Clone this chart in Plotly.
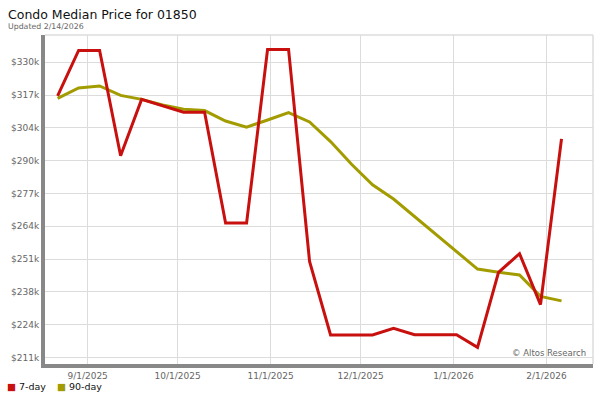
import plotly.graph_objects as go
import pandas as pd

dates = pd.date_range("2025-08-22", periods=25, freq="7D")
day7 = [316.5, 334.8, 334.8, 292.4, 315.1, 312.4, 309.9, 309.9, 265.3, 265.3,
        335.2, 335.2, 249.9, 220.3, 220.3, 220.3, 223.0, 220.4, 220.4, 220.4,
        215.3, 245.5, 253.0, 232.5, 299.2]
day90 = [315.5, 319.7, 320.5, 316.7, 315.1, 312.8, 311.1, 310.6, 306.4, 303.9,
         306.8, 309.8, 306.0, 298.1, 289.0, 280.7, 275.0, 268.0, 261.0, 253.9,
         246.8, 245.5, 244.4, 235.8, 234.0]
ytick_vals = [211.2, 224.4, 237.6, 250.8, 264.0, 277.2, 290.4, 303.6, 316.8, 330.0]
ytick_text = ["$211k", "$224k", "$238k", "$251k", "$264k", "$277k", "$290k", "$304k", "$317k", "$330k"]
xtick_vals = ["2025-09-01", "2025-10-01", "2025-11-01", "2025-12-01", "2026-01-01", "2026-02-01"]
xtick_text = ["9/1/2025", "10/1/2025", "11/1/2025", "12/1/2025", "1/1/2026", "2/1/2026"]
series_names = ["7-day", "90-day"]

RED = "#C8100F"
OLIVE = "#A29C00"
FONT = "DejaVu Sans"

fig = go.Figure()
fig.add_trace(go.Scatter(x=dates, y=day90, mode="lines", name=series_names[1],
                         line=dict(color=OLIVE, width=3), hoverinfo="skip"))
fig.add_trace(go.Scatter(x=dates, y=day7, mode="lines", name=series_names[0],
                         line=dict(color=RED, width=3), hoverinfo="skip"))

W, H = 600, 400
ml, mr, mt, mb = 45, 7, 35, 36
pw, ph = W - ml - mr, H - mt - mb

def px_x(p):
    return (p - ml) / pw

def px_y(p):
    return (H - mb - p) / ph

annotations = [
    dict(text="Condo Median Price for 01850", xref="paper", yref="paper",
         x=px_x(6), y=px_y(5), xanchor="left", yanchor="top", showarrow=False,
         font=dict(family=FONT, size=12.5, color="#111")),
    dict(text="Updated 2/14/2026", xref="paper", yref="paper",
         x=px_x(6), y=px_y(20), xanchor="left", yanchor="top", showarrow=False,
         font=dict(family=FONT, size=7.8, color="#666")),
    dict(text="© Altos Research", xref="paper", yref="paper",
         x=px_x(588), y=px_y(360), xanchor="right", yanchor="bottom", showarrow=False,
         font=dict(family=FONT, size=8.5, color="#666")),
]
for name, color, lx in [(series_names[0], RED, 5), (series_names[1], OLIVE, 55)]:
    annotations.append(dict(text=f"<span style='color:{color}'>■</span> {name}",
                            xref="paper", yref="paper", x=px_x(lx), y=px_y(379),
                            xanchor="left", yanchor="top", showarrow=False,
                            font=dict(family=FONT, size=9.5, color="#111")))

fig.update_layout(
    width=W, height=H,
    margin=dict(l=ml, r=mr, t=mt, b=mb, autoexpand=False),
    paper_bgcolor="white", plot_bgcolor="white",
    font=dict(family=FONT, size=9, color="#666"),
    showlegend=False,
    xaxis=dict(type="date", range=["2025-08-17 19:00", "2026-02-16 12:00"],
               tickvals=xtick_vals, ticktext=xtick_text, showgrid=True,
               gridcolor="#dcdcdc", gridwidth=1, zeroline=False,
               showline=True, linecolor="#888", linewidth=4,
               tickfont=dict(family=FONT, size=9, color="#666"), ticks="",
               automargin=False),
    yaxis=dict(range=[208.6, 341.0], tickvals=ytick_vals, ticktext=ytick_text,
               showgrid=True, gridcolor="#dcdcdc", gridwidth=1, zeroline=False,
               showline=True, linecolor="#888", linewidth=4,
               tickfont=dict(family=FONT, size=9, color="#666"), ticks="",
               automargin=False),
    shapes=[
        dict(type="line", xref="paper", yref="paper", x0=0, x1=1, y0=1, y1=1,
             line=dict(color="#dcdcdc", width=1.5)),
        dict(type="line", xref="paper", yref="paper", x0=1, x1=1, y0=0, y1=1,
             line=dict(color="#dcdcdc", width=1.5)),
    ],
    annotations=annotations,
)

fig.write_html("out.html", config={"displayModeBar": False},
               post_script="document.body.style.margin='0';document.body.style.padding='0';")
